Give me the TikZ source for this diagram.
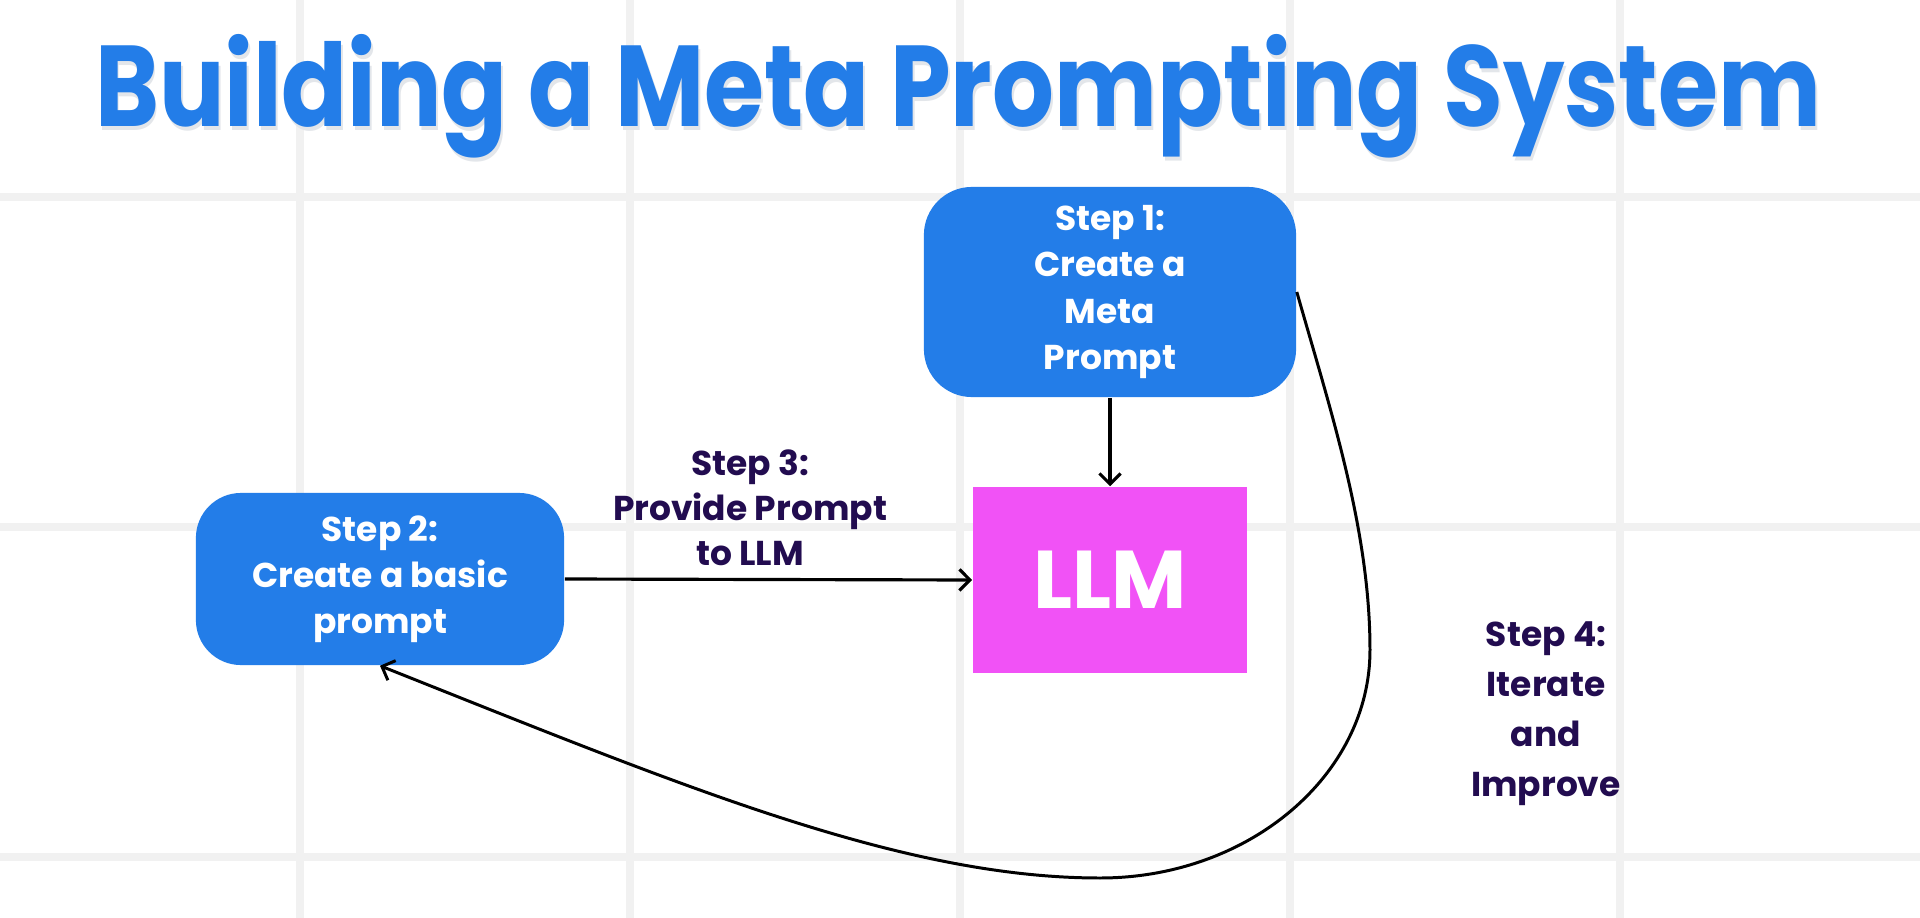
\documentclass[tikz,border=0pt]{standalone}
\usepackage{fontspec}
\setmainfont{Poppins}
\usepackage{graphicx}
\usepackage{tikz}
\usetikzlibrary{arrows.meta, positioning}
\definecolor{metaBlue}{HTML}{237DE8}
\definecolor{metaPink}{HTML}{F152F6}
\definecolor{metaInk}{HTML}{220C50}
\definecolor{metaGrid}{HTML}{F1F1F1}
\definecolor{metaShadow}{HTML}{E3E6EA}
\newcommand{\metaTitle}{\resizebox{17.25cm}{\height}{Building a Meta Prompting System}}

\begin{document}
\begin{tikzpicture}[
    x=0.01cm, y=-0.01cm,
    gridline/.style={draw=metaGrid, line width=2.3pt},
    heading/.style={font=\fontsize{32.7}{36}\selectfont\bfseries, anchor=base, inner sep=0pt},
    stepbox/.style={rounded corners=0.48cm, fill=metaBlue, text=white, align=center, font=\fontsize{9.8}{13.1}\selectfont\bfseries, inner sep=0pt},
    llmbox/.style={fill=metaPink, text=white, font=\fontsize{23.3}{28}\selectfont\bfseries, minimum width=2.74cm, minimum height=1.86cm, inner sep=0pt},
    steplabel/.style={text=metaInk, align=center, font=\fontsize{9.8}{12.8}\selectfont\bfseries},
    flow/.style={-{Straight Barb[length=3pt, width=6pt]}, line width=0.9pt, draw=black},
    loopback/.style={-{Straight Barb[length=3pt, width=6pt]}, line width=0.85pt, draw=black}
]
    \fill[white] (0,0) rectangle (1920,918);
    \useasboundingbox (0,0) rectangle (1920,918);

    % background grid
    \foreach \gx in {300,630,960,1290,1620}
        \draw[gridline] (\gx,0) -- (\gx,918);
    \foreach \gy in {197,527,857}
        \draw[gridline] (0,\gy) -- (1920,\gy);

    \node[heading, text=metaShadow] (titleshadow) at (960,130) {\metaTitle};
    \node[heading, text=metaBlue] (title) at (958,126) {\metaTitle};

    \node[stepbox, minimum width=3.72cm, minimum height=2.10cm] (meta) at (1110,292) {Step 1:\\Create a\\Meta\\Prompt};
    \node[stepbox, minimum width=3.68cm, minimum height=1.72cm, rounded corners=0.45cm] (basic) at (380,579) {Step 2:\\Create a basic\\prompt};
    \node[llmbox] (llm) at (1110,580) {LLM};
    \node[steplabel] (provide) at (750,508) {Step 3:\\Provide Prompt\\to LLM};
    \node[steplabel, font=\fontsize{9.8}{14.2}\selectfont\bfseries] (iterate) at (1546,714) {Step 4:\\Iterate\\and\\Improve};

    \draw[flow] (meta) -- (llm);
    \draw[flow] (basic.east) -- (llm.west);

    \coordinate (turn) at (1370,650);
    \coordinate (bottom) at (1100,878);
    \draw[loopback] (meta.east) .. controls (1331,412) and (1370,530) .. (turn)
        .. controls (1370,775) and (1249,878) .. (bottom)
        .. controls (900,878) and (680,785) .. (basic.south);
\end{tikzpicture}
\end{document}
